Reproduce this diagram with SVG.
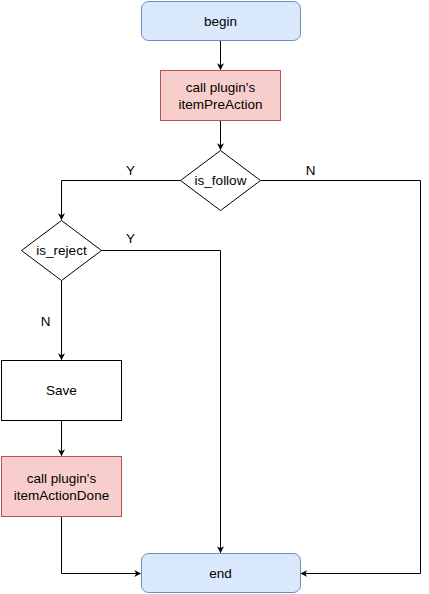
<svg xmlns="http://www.w3.org/2000/svg" width="429" height="594" viewBox="0 0 429 594">
<defs>
<marker id="arr" viewBox="0 0 10 10" refX="9" refY="5" markerWidth="7" markerHeight="7" markerUnits="userSpaceOnUse" orient="auto">
<path d="M0,0 L10,5 L0,10 L3,5 Z" fill="#000"/>
</marker>
<style>
.t{font-family:"Liberation Sans",Arial,Helvetica,sans-serif;font-size:13.5px;fill:#000;text-anchor:middle;dominant-baseline:central}
.blue{fill:#dae8fc;stroke:#6c8ebf;stroke-width:1}
.red{fill:#f8cecc;stroke:#b85450;stroke-width:1}
.wht{fill:#fff;stroke:#000;stroke-width:1}
.c{fill:none;stroke:#000;stroke-width:1;marker-end:url(#arr)}
</style>
</defs>
<g id="connectors">
<path class="c" d="M220.5,40.5 V69.5"/>
<path class="c" d="M220.5,120.5 V149.5"/>
<path class="c" d="M180.5,180.5 H61.5 V219.5"/>
<path class="c" d="M260.5,180.5 H420.5 V573.5 H301"/>
<path class="c" d="M101.5,250.5 H220.5 V552.5"/>
<path class="c" d="M61.5,280.5 V359.5"/>
<path class="c" d="M61.5,420.5 V455.5"/>
<path class="c" d="M61.5,516.5 V573.5 H140.5"/>
</g>
<g id="begin"><rect class="blue" x="141.5" y="1.5" width="159" height="39" rx="7"/><text class="t" x="220.5" y="21">begin</text></g>
<g id="preAction"><rect class="red" x="160.5" y="70.5" width="120" height="50"/><text class="t" x="220.5" y="87.5">call plugin's</text><text class="t" x="220.5" y="104.5">itemPreAction</text></g>
<g id="is_follow"><polygon class="wht" points="220.5,150.5 260.5,180.5 220.5,210.5 180.5,180.5"/><text class="t" x="220.5" y="180.5">is_follow</text></g>
<g id="is_reject"><polygon class="wht" points="61.5,220.5 101.5,250.5 61.5,280.5 21.5,250.5"/><text class="t" x="61.5" y="250.5">is_reject</text></g>
<g id="save"><rect class="wht" x="1.5" y="360.5" width="120" height="60"/><text class="t" x="61.5" y="390.5">Save</text></g>
<g id="actionDone"><rect class="red" x="1.5" y="456.5" width="120" height="60"/><text class="t" x="61.5" y="478">call plugin's</text><text class="t" x="61.5" y="495">itemActionDone</text></g>
<g id="end"><rect class="blue" x="141.5" y="553.5" width="159" height="39" rx="7"/><text class="t" x="220.5" y="573">end</text></g>
<g id="labels">
<text class="t" x="130.5" y="170">Y</text>
<text class="t" x="310.5" y="170">N</text>
<text class="t" x="130.5" y="238">Y</text>
<text class="t" x="45.5" y="321">N</text>
</g>
</svg>
